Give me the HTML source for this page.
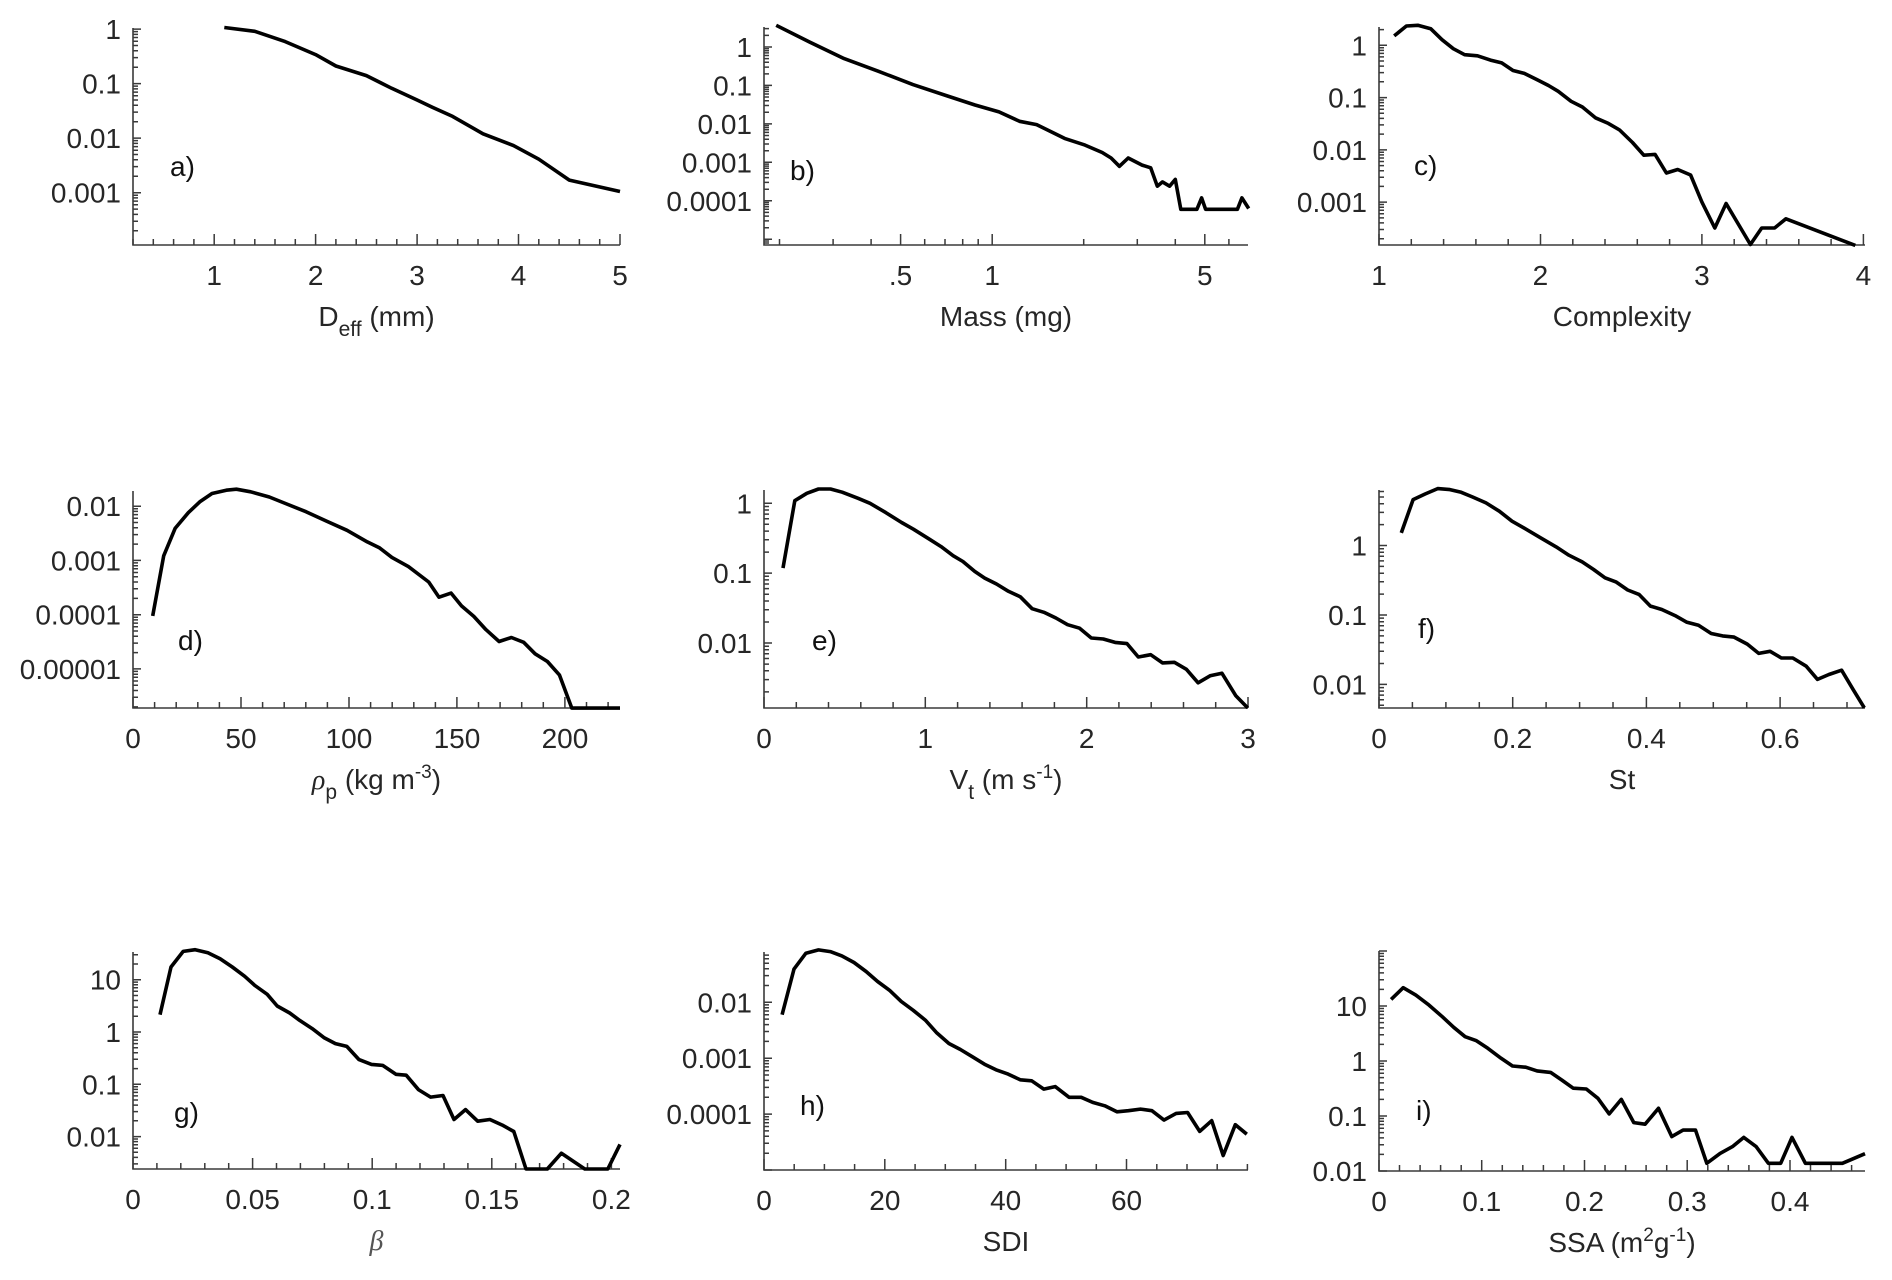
<!DOCTYPE html>
<html><head><meta charset="utf-8"><style>
html,body{margin:0;padding:0;background:#fff}
svg{display:block;font-family:"Liberation Sans",Arial,sans-serif}
</style></head><body>
<svg id="fig" width="1892" height="1280" viewBox="0 0 1892 1280" xmlns="http://www.w3.org/2000/svg"></svg>
<script>
// ---- data (x values, y values per panel) ----
const aX=[1.1,1.4,1.7,2.0,2.2,2.5,2.75,3.0,3.15,3.35,3.65,3.95,4.2,4.5,5.0];
const aY=[1.07,0.91,0.59,0.34,0.21,0.14,0.082,0.05,0.037,0.025,0.012,0.0073,0.0041,0.0017,0.00105];
const bX=[0.195,0.251,0.326,0.423,0.549,0.713,0.878,1.053,1.23,1.40,1.73,2.02,2.30,2.46,2.62,2.80,3.11,3.32,3.49,3.63,3.83,4.00,4.17,4.71,4.88,5.03,6.40,6.62,6.97];
const bY=[3.66,1.35,0.50,0.233,0.105,0.053,0.031,0.0205,0.0117,0.0096,0.0042,0.0028,0.0018,0.0013,0.00079,0.0013,0.00085,0.00072,0.00024,0.00031,0.00024,0.00036,0.00006,0.00006,0.000119,0.00006,0.00006,0.000119,0.000063];
const cX=[1.094,1.17,1.24,1.32,1.39,1.46,1.53,1.61,1.69,1.76,1.83,1.90,1.98,2.05,2.11,2.19,2.26,2.34,2.42,2.49,2.57,2.64,2.71,2.78,2.85,2.93,3.00,3.08,3.15,3.30,3.37,3.45,3.52,3.95];
const cY=[1.51,2.34,2.41,2.08,1.28,0.86,0.66,0.63,0.52,0.46,0.33,0.29,0.22,0.17,0.132,0.085,0.066,0.041,0.032,0.024,0.0138,0.0079,0.0082,0.0036,0.0042,0.0033,0.001,0.00032,0.00094,0.000155,0.00032,0.00032,0.00048,0.000149];
const dX=[9.1,14.2,19.5,25.6,30.9,36.6,43.2,47.9,54.5,63.1,70.6,80.1,89.6,99.1,108.5,114.2,119.9,127.5,136.9,141.7,147.3,152.1,157.8,163.4,169.5,175.2,180.9,186.2,191.9,197.5,203.2,225.5];
const dY=[9.5e-5,1.22e-3,3.9e-3,7.6e-3,0.012,0.0171,0.0197,0.0206,0.0184,0.0148,0.0112,0.0079,0.0053,0.0036,0.0022,0.0017,0.00114,0.00077,0.0004,0.00021,0.00025,0.000145,9.3e-5,5.3e-5,3.2e-5,3.8e-5,3.1e-5,1.9e-5,1.37e-5,7.7e-6,1.9e-6,1.9e-6];
const eX=[0.118,0.191,0.265,0.338,0.412,0.485,0.583,0.657,0.755,0.853,0.926,1.025,1.098,1.172,1.233,1.306,1.368,1.441,1.515,1.588,1.662,1.735,1.809,1.882,1.956,2.029,2.103,2.176,2.25,2.32,2.397,2.47,2.544,2.618,2.691,2.765,2.838,2.924,2.998];
const eY=[0.118,1.09,1.39,1.60,1.60,1.44,1.18,1.0,0.736,0.53,0.425,0.306,0.24,0.178,0.147,0.106,0.085,0.07,0.055,0.046,0.031,0.0275,0.0228,0.0183,0.0163,0.0118,0.0114,0.0102,0.0098,0.0063,0.0068,0.0052,0.0053,0.0042,0.0027,0.0034,0.0037,0.00177,0.00118];
const fX=[0.0334,0.051,0.069,0.0878,0.106,0.123,0.14,0.16,0.18,0.199,0.219,0.242,0.265,0.284,0.304,0.321,0.338,0.355,0.372,0.389,0.406,0.423,0.443,0.46,0.478,0.497,0.514,0.531,0.551,0.568,0.585,0.602,0.619,0.639,0.656,0.673,0.692,0.709,0.726];
const fY=[1.52,4.59,5.53,6.61,6.4,5.84,5.01,4.11,3.12,2.24,1.74,1.29,0.957,0.726,0.582,0.452,0.343,0.297,0.229,0.198,0.134,0.12,0.098,0.079,0.071,0.054,0.05,0.048,0.038,0.028,0.03,0.024,0.024,0.0183,0.0118,0.0139,0.016,0.0085,0.0046];
const gX=[0.0113,0.0159,0.021,0.026,0.0313,0.0364,0.0415,0.0467,0.0509,0.0561,0.0603,0.0655,0.0697,0.0749,0.08,0.0846,0.0894,0.0945,0.0997,0.1044,0.1099,0.1142,0.1193,0.1244,0.1296,0.1342,0.139,0.1441,0.1492,0.1544,0.1592,0.1643,0.1732,0.1791,0.1889,0.1985,0.2036];
const gY=[2.14,17.5,34.8,37.5,32.8,25.2,17.5,11.6,7.8,5.25,3.14,2.31,1.67,1.16,0.77,0.6,0.53,0.297,0.24,0.23,0.155,0.149,0.079,0.057,0.061,0.0212,0.0328,0.0197,0.0212,0.0166,0.0125,0.0024,0.0024,0.0048,0.0024,0.0024,0.0071];
const hX=[3.0,4.97,6.93,9.02,10.98,12.9,14.9,16.9,18.8,20.8,22.7,24.7,26.7,28.6,30.6,32.5,34.5,36.5,38.4,40.4,42.4,44.3,46.3,48.2,50.5,52.5,54.4,56.4,58.4,60.3,62.3,64.2,66.2,68.2,70.1,72.1,74.1,76.0,78.0,79.9];
const hY=[0.006,0.0392,0.0757,0.0866,0.0809,0.0676,0.0515,0.0356,0.0236,0.0163,0.0104,0.0072,0.0048,0.00284,0.00183,0.00143,0.00106,0.00078,0.00062,0.00052,0.00041,0.000394,0.00028,0.00031,0.0002,0.0002,0.000162,0.000141,0.00011,0.000115,0.000123,0.000115,0.000078,0.000103,0.000107,0.000049,0.0000763,0.0000182,0.0000646,0.0000437];
const iX=[0.0118,0.0236,0.0358,0.0487,0.0616,0.0727,0.0838,0.0948,0.1059,0.1188,0.1299,0.1428,0.1539,0.167,0.178,0.189,0.2018,0.213,0.224,0.2358,0.248,0.259,0.272,0.285,0.296,0.308,0.319,0.332,0.344,0.355,0.367,0.379,0.391,0.402,0.415,0.451,0.473];
const iY=[13.2,21.5,15.8,10.4,6.4,4.1,2.77,2.34,1.70,1.12,0.81,0.77,0.66,0.62,0.45,0.32,0.31,0.21,0.109,0.2,0.076,0.071,0.138,0.0423,0.0555,0.0555,0.0138,0.0209,0.0278,0.0409,0.0278,0.0138,0.0138,0.0409,0.0138,0.0138,0.0206];
// tick labels
const aXT=["1","2","3","4","5"], aYT=["1","0.1","0.01","0.001"];
const bXT=[".5","1","5"], bYT=["1","0.1","0.01","0.001","0.0001"];
const cXT=["1","2","3","4"], cYT=["1","0.1","0.01","0.001"];
const dXT=["0","50","100","150","200"], dYT=["0.01","0.001","0.0001","0.00001"];
const eXT=["0","1","2","3"], eYT=["1","0.1","0.01"];
const fXT=["0","0.2","0.4","0.6"], fYT=["1","0.1","0.01"];
const gXT=["0","0.05","0.1","0.15","0.2"], gYT=["10","1","0.1","0.01"];
const hXT=["0","20","40","60"], hYT=["0.01","0.001","0.0001"];
const iXT=["0","0.1","0.2","0.3","0.4"], iYT=["10","1","0.1","0.01"];

const NS="http://www.w3.org/2000/svg";
const svg=document.getElementById('fig');
function mk(tag,attrs,parent){const e=document.createElementNS(NS,tag);for(const k in attrs)e.setAttribute(k,attrs[k]);(parent||svg).appendChild(e);return e;}

const panels=[
 {id:'a',L:133,R:620,T:28,B:245,xl:[0.2,5],xlog:false,yl:[-3.96,0.02],xs:aX,ys:aY,xt:aXT,yt:aYT,minor:0.2,letter:[170,176],title:'deff'},
 {id:'b',L:764,R:1248,T:27,B:245,xl:[-0.75,0.841],xlog:true,yl:[-5.15,0.52],xs:bX,ys:bY,xt:bXT,yt:bYT,letter:[790,180],title:'Mass (mg)'},
 {id:'c',L:1379,R:1865,T:27,B:245,xl:[1,4.01],xlog:false,yl:[-3.82,0.35],xs:cX,ys:cY,xt:cXT,yt:cYT,minor:0.2,letter:[1414,175],title:'Complexity'},
 {id:'d',L:133,R:620,T:491,B:708,xl:[0,225.5],xlog:false,yl:[-5.72,-1.72],xs:dX,ys:dY,xt:dXT,yt:dYT,minor:10,letter:[178,650],title:'rho'},
 {id:'e',L:764,R:1248,T:490,B:708,xl:[0,3],xlog:false,yl:[-2.93,0.19],xs:eX,ys:eY,xt:eXT,yt:eYT,minor:0.2,letter:[812,650],title:'vt'},
 {id:'f',L:1379,R:1865,T:490,B:708,xl:[0,0.727],xlog:false,yl:[-2.34,0.80],xs:fX,ys:fY,xt:fXT,yt:fYT,minor:0.05,letter:[1418,638],title:'St'},
 {id:'g',L:133,R:620,T:952,B:1169,xl:[0,0.2036],xlog:false,yl:[-2.62,1.53],xs:gX,ys:gY,xt:gXT,yt:gYT,minor:0.01,letter:[174,1122],title:'beta'},
 {id:'h',L:764,R:1248,T:952,B:1170,xl:[0,80.1],xlog:false,yl:[-5.0,-1.1],xs:hX,ys:hY,xt:hXT,yt:hYT,minor:5,letter:[800,1115],title:'SDI'},
 {id:'i',L:1379,R:1865,T:951,B:1171,xl:[0,0.473],xlog:false,yl:[-2,2],xs:iX,ys:iY,xt:iXT,yt:iYT,minor:0.02,letter:[1416,1120],title:'ssa'}
];
const AX='#3a3a3a', TX='#262626', FS=28;
panels.forEach(p=>{
  const g=mk('g',{});
  
  
  const xs=v=>{const t=p.xlog?Math.log10(v):v;return p.L+(t-p.xl[0])/(p.xl[1]-p.xl[0])*(p.R-p.L);};
  const ys=v=>p.B-(Math.log10(v)-p.yl[0])/(p.yl[1]-p.yl[0])*(p.B-p.T);
  const ax=mk('path',{d:`M${p.L},${p.T}V${p.B}H${p.R}`,fill:'none',stroke:AX,'stroke-width':1.6},g);
  
  
  let tk='';
  for(let d=Math.floor(p.yl[0]);d<=Math.ceil(p.yl[1]);d++){
    for(let m=1;m<10;m++){
      const lv=d+Math.log10(m);
      if(lv<p.yl[0]-1e-6||lv>p.yl[1]+1e-6)continue;
      const y=p.B-(lv-p.yl[0])/(p.yl[1]-p.yl[0])*(p.B-p.T);
      tk+=`M${p.L},${y.toFixed(1)}h${m===1?8:5}`;
    }
  }
  const majors=p.xt.map(s=>parseFloat(s.startsWith('.')?'0'+s:s));
  if(p.xlog){
    for(let d=-1;d<=0;d++)for(let m=1;m<10;m++){const v=m*Math.pow(10,d);const lv=Math.log10(v);if(lv<p.xl[0]||lv>p.xl[1])continue;
      const big=majors.some(M=>Math.abs(M-v)<1e-9);const x=xs(v);tk+=`M${x.toFixed(1)},${p.B}v${big?-11:-6}`;}
  } else {
    const n=Math.round((p.xl[1]-p.xl[0])/p.minor+0.5);
    for(let k=0;k<=n;k++){const v=Math.round(p.xl[0]/p.minor)*p.minor+k*p.minor;if(v>p.xl[1]+1e-9)break;
      const big=majors.some(M=>Math.abs(M-v)<p.minor*1e-3);const x=xs(v);tk+=`M${x.toFixed(1)},${p.B}v${big?-11:-6}`;}
  }
  const tp=mk('path',{d:tk,fill:'none',stroke:AX,'stroke-width':1.5},g);
  
  
  p.yt.forEach(s=>{
    const t=mk('text',{x:p.L-12,y:ys(parseFloat(s))+10,'text-anchor':'end','font-size':FS,fill:TX},g);
    t.textContent=s;
    
    
  });
  p.xt.forEach((s,k)=>{
    const t=mk('text',{x:xs(majors[k]),y:p.B+40,'text-anchor':'middle','font-size':FS,fill:TX},g);
    t.textContent=s;
    
    
  });
  const cx=(p.L+p.R)/2;
  const tt=mk('text',{x:cx,y:p.B+81,'text-anchor':'middle','font-size':FS,fill:TX},g);
  
  
  if(p.title==='deff'){tt.innerHTML='D<tspan dy="10" font-size="21">eff</tspan><tspan dy="-10"> (mm)</tspan>';}
  else if(p.title==='rho'){tt.innerHTML='<tspan font-style="italic" font-family="Liberation Serif">ρ</tspan><tspan dy="10" font-size="21">p</tspan><tspan dy="-10"> (kg m</tspan><tspan dy="-11" font-size="19">-3</tspan><tspan dy="11">)</tspan>';}
  else if(p.title==='vt'){tt.innerHTML='V<tspan dy="10" font-size="21">t</tspan><tspan dy="-10"> (m s</tspan><tspan dy="-11" font-size="19">-1</tspan><tspan dy="11">)</tspan>';}
  else if(p.title==='beta'){tt.setAttribute('font-style','italic');tt.setAttribute('font-family','Liberation Serif');tt.setAttribute('fill','#555');tt.textContent='β';}
  else if(p.title==='ssa'){tt.innerHTML='SSA (m<tspan dy="-11" font-size="19">2</tspan><tspan dy="11">g</tspan><tspan dy="-11" font-size="19">-1</tspan><tspan dy="11">)</tspan>';}
  else tt.textContent=p.title;
  const lt=mk('text',{x:p.letter[0],y:p.letter[1],'font-size':FS,fill:'#111'},g);
  lt.textContent=p.id+')';
  
  
  const d=p.xs.map((x,k)=>(k?'L':'M')+xs(x).toFixed(1)+','+ys(p.ys[k]).toFixed(1)).join('');
  const ln=mk('path',{d:d,fill:'none',stroke:'#000','stroke-width':3.6,'stroke-linejoin':'round'},g);
  
  
});
</script>
</body></html>
